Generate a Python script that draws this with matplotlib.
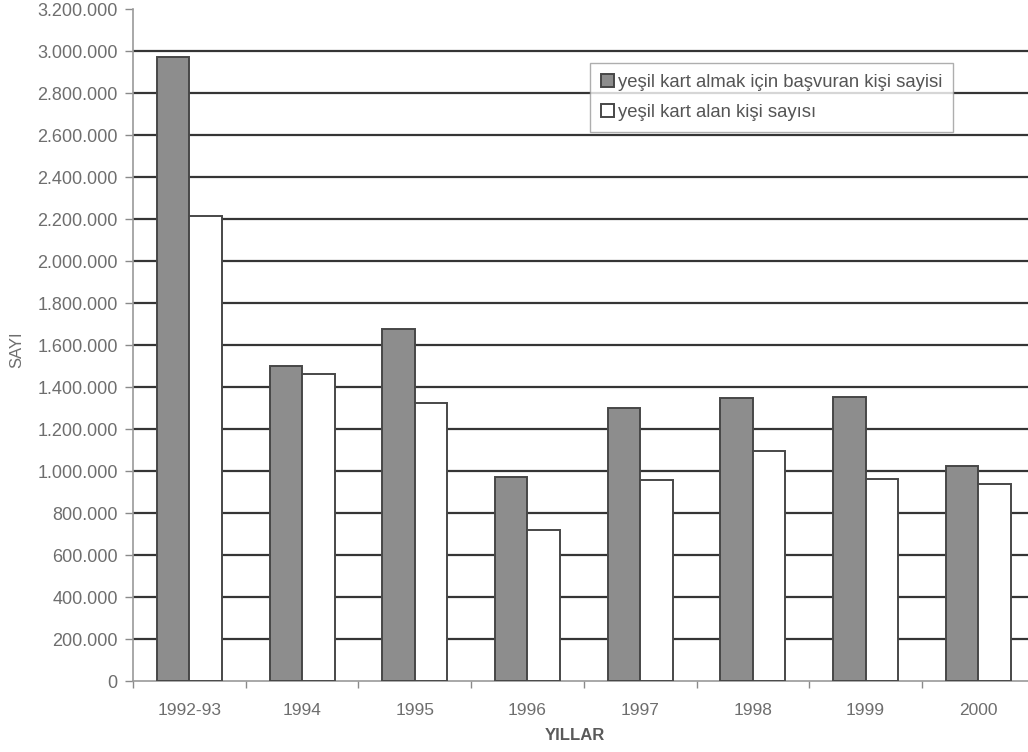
import numpy as np
import matplotlib
matplotlib.use("Agg")
import matplotlib.pyplot as plt
from matplotlib.ticker import FuncFormatter, MultipleLocator

plt.rcParams['font.family'] = ['Liberation Sans', 'DejaVu Sans']

# --- data ---
years = ["1992-93", "1994", "1995", "1996", "1997", "1998", "1999", "2000"]
applied = [2972000, 1500000, 1676000, 972000, 1300000, 1348000, 1352000, 1024000]
granted = [2212000, 1462000, 1325000, 719000, 957000, 1095000, 963000, 938000]
label_applied = "yeşil kart almak için başvuran kişi sayisi"
label_granted = "yeşil kart alan kişi sayısı"

GRID = "#353535"
EDGE = "#474747"
TXT = "#6e6e6e"

fig = plt.figure(figsize=(10.28, 7.52), dpi=100)
ax = fig.add_axes([133 / 1028, 71 / 752, 901.6 / 1028, 672 / 752])

x = np.arange(len(years))
w = 0.288
ax.bar(x - w / 2, applied, w, color="#8d8d8d", edgecolor=EDGE, linewidth=1.4,
       label=label_applied, zorder=3)
ax.bar(x + w / 2, granted, w, color="white", edgecolor=EDGE, linewidth=1.4,
       label=label_granted, zorder=3)

ax.set_xlim(-0.5, len(years) - 0.5)
ax.set_ylim(0, 3200000)

# y axis: 200.000 steps, dot as thousands separator
ax.yaxis.set_major_locator(MultipleLocator(200000))
ax.yaxis.set_major_formatter(FuncFormatter(lambda v, p: f"{int(v):,}".replace(",", ".")))
ax.tick_params(axis="y", which="major", length=6, width=1, color="#8a8a8a",
               labelsize=13, labelcolor=TXT, pad=5)

# horizontal gridlines, none at the very top
for v in np.arange(200000, 3200000, 200000):
    ax.axhline(v, color=GRID, linewidth=1.6, zorder=1)

# x axis: labels at group centres, tick marks at group boundaries
ax.set_xticks(x)
ax.set_xticklabels(years)
ax.set_xticks(np.arange(-0.5, len(years), 1.0), minor=True)
ax.tick_params(axis="x", which="major", length=0, labelsize=12.5, labelcolor=TXT, pad=16)
ax.tick_params(axis="x", which="minor", length=5, width=1, color="#8a8a8a")

for side in ["top", "right"]:
    ax.spines[side].set_visible(False)
for side in ["left", "bottom"]:
    ax.spines[side].set_color("#9a9a9a")
    ax.spines[side].set_linewidth(1.2)

fig.text(17 / 1028, 1 - 350 / 752, "SAYI", rotation=90, ha="center", va="center",
         fontsize=12, color=TXT)
fig.text(575 / 1028, 1 - 736 / 752, "YILLAR", ha="center", va="center",
         fontsize=12, color="#5a5a5a", fontweight="bold")

leg = ax.legend(loc="upper left", bbox_to_anchor=(590 / 1028, 1 - 63 / 752),
                bbox_transform=fig.transFigure, frameon=True, fancybox=False,
                fontsize=13.3, handlelength=0.7, handleheight=0.7,
                handletextpad=0.2, borderpad=0.6, labelspacing=0.7,
                borderaxespad=0)
leg.get_frame().set_edgecolor("#9a9a9a")
leg.get_frame().set_linewidth(1.0)
for t in leg.get_texts():
    t.set_color("#555555")

fig.savefig("out.png", dpi=100, facecolor="white")
